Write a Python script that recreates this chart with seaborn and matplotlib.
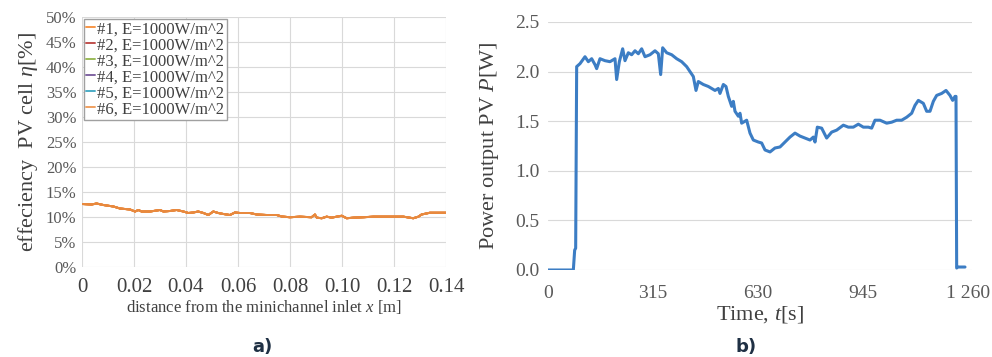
import matplotlib
matplotlib.use("Agg")
import matplotlib.pyplot as plt
import seaborn as sns
import pandas as pd
import numpy as np

sns.set_theme(style="white")
plt.rcParams['font.family'] = ['Liberation Serif', 'DejaVu Serif']
plt.rcParams['mathtext.fontset'] = 'custom'
plt.rcParams['mathtext.rm'] = 'Liberation Serif'
plt.rcParams['mathtext.it'] = 'Liberation Serif:italic'

# ---- data: panel a) efficiency vs distance ----
x_dist = [0.0, 0.0037, 0.0056, 0.0082, 0.0121, 0.0146, 0.0185, 0.0204, 0.0217, 0.0229,
          0.0262, 0.0300, 0.0313, 0.0338, 0.0364, 0.0390, 0.0409, 0.0428, 0.0447, 0.0467,
          0.0486, 0.0505, 0.0524, 0.0544, 0.0569, 0.0588, 0.0608, 0.0646, 0.0672, 0.0710,
          0.0749, 0.0768, 0.0800, 0.0838, 0.0883, 0.0896, 0.0903, 0.0922, 0.0941, 0.0960,
          0.0980, 0.0999, 0.1018, 0.1044, 0.1082, 0.1121, 0.1159, 0.1197, 0.1236, 0.1274,
          0.1294, 0.1306, 0.1338, 0.1364, 0.1400]
eff = [12.6, 12.5, 12.7, 12.4, 12.1, 11.7, 11.5, 11.1, 11.4, 11.1,
       11.1, 11.4, 11.1, 11.2, 11.4, 11.1, 10.8, 10.9, 11.1, 10.8,
       10.4, 11.1, 10.8, 10.6, 10.4, 10.9, 10.8, 10.8, 10.5, 10.4,
       10.4, 10.1, 9.95, 10.07, 9.95, 10.5, 9.87, 9.75, 10.07, 9.87,
       10.07, 10.25, 9.75, 9.87, 9.95, 10.07, 10.07, 10.07, 10.07, 9.75,
       10.07, 10.5, 10.85, 10.85, 10.85]
series_labels = ["#1, E=1000W/m^2", "#2, E=1000W/m^2", "#3, E=1000W/m^2",
                 "#4, E=1000W/m^2", "#5, E=1000W/m^2", "#6, E=1000W/m^2"]
series_colors = ["#F79646", "#C0504D", "#9BBB59", "#8064A2", "#4BACC6", "#F0A060"]
left_xticks = [0, 0.02, 0.04, 0.06, 0.08, 0.10, 0.12, 0.14]
left_xticklabels = ["0", "0.02", "0.04", "0.06", "0.08", "0.10", "0.12", "0.14"]

# ---- data: panel b) power vs time ----
t_sec = [0, 76, 80, 83, 86, 96, 111, 121, 131, 141, 146, 156, 171, 186, 201, 206, 214,
         224, 231, 241, 251, 261, 271, 281, 291, 306, 321, 331, 338, 344, 356, 371, 386,
         401, 416, 426, 436, 444, 451, 466, 481, 491, 501, 511, 516, 526, 534, 541, 551,
         556, 561, 571, 576, 581, 596, 606, 616, 631, 641, 651, 666, 681, 696, 711, 726,
         741, 756, 771, 786, 796, 801, 808, 821, 836, 851, 866, 886, 901, 916, 931, 946,
         961, 971, 981, 996, 1016, 1031, 1046, 1061, 1076, 1091, 1101, 1111, 1126, 1136,
         1146, 1156, 1166, 1181, 1194, 1206, 1214, 1221, 1224, 1226, 1230, 1251]
power = [0.0, 0.0, 0.2, 0.22, 2.05, 2.08, 2.15, 2.10, 2.13, 2.07, 2.03, 2.13, 2.11, 2.10,
         2.13, 1.92, 2.10, 2.23, 2.11, 2.19, 2.17, 2.21, 2.18, 2.23, 2.15, 2.17, 2.21, 2.18,
         1.97, 2.24, 2.19, 2.17, 2.13, 2.10, 2.05, 2.00, 1.95, 1.81, 1.90, 1.87, 1.85, 1.83,
         1.81, 1.83, 1.78, 1.87, 1.85, 1.75, 1.65, 1.70, 1.60, 1.55, 1.58, 1.48, 1.51, 1.38,
         1.31, 1.29, 1.28, 1.21, 1.19, 1.23, 1.24, 1.29, 1.34, 1.38, 1.35, 1.33, 1.31, 1.34,
         1.29, 1.44, 1.43, 1.33, 1.39, 1.41, 1.46, 1.44, 1.44, 1.47, 1.44, 1.44, 1.43, 1.51,
         1.51, 1.48, 1.49, 1.51, 1.51, 1.54, 1.58, 1.66, 1.71, 1.68, 1.60, 1.60, 1.70, 1.76,
         1.78, 1.81, 1.76, 1.71, 1.75, 1.75, 0.02, 0.03, 0.03]
right_xticks = [0, 315, 630, 945, 1260]
right_xticklabels = ["0", "315", "630", "945", "1 260"]
right_yticks = [0.0, 0.5, 1.0, 1.5, 2.0, 2.5]

grid_c = "#D9D9D9"
tick_c = "#595959"

fig = plt.figure(figsize=(9.92, 3.57), dpi=100)

# ---------------- panel a ----------------
ax1 = fig.add_axes([82/992, 1 - 267/357, (446 - 82)/992, (267 - 17)/357])
frames = []
for lab in series_labels:
    frames.append(pd.DataFrame({"x": x_dist, "eff": eff, "series": lab}))
df_a = pd.concat(frames, ignore_index=True)
sns.lineplot(data=df_a, x="x", y="eff", hue="series", hue_order=series_labels,
             palette=series_colors, ax=ax1, linewidth=1.4, legend=True)
# the top-drawn line appears orange
for ln in ax1.get_lines():
    ln.set_color("#E8893E")
ax1.set_xlim(0, 0.14)
ax1.set_ylim(0, 50)
ax1.set_xticks(left_xticks)
ax1.set_xticklabels(left_xticklabels, fontsize=15, color="#404040")
ax1.set_yticks(range(0, 51, 5))
ax1.set_yticklabels([f"{v}%" for v in range(0, 51, 5)], fontsize=12, color=tick_c)
ax1.grid(True, color=grid_c, linewidth=0.8)
for s in ax1.spines.values():
    s.set_visible(False)
ax1.tick_params(axis="both", length=0, pad=4)
ax1.tick_params(axis="x", pad=8)
ax1.set_xlabel(r"distance from the minichannel inlet $\mathit{x}$ [m]", fontsize=12,
               color="#404040", labelpad=1)
ax1.set_ylabel(r"effeciency  PV cell $\mathit{\eta}$[%]", fontsize=16, color="#404040",
               labelpad=4)
handles, labels = ax1.get_legend_handles_labels()
for h, c in zip(handles, series_colors):
    h.set_color(c)
leg = ax1.legend(handles, labels, loc="upper left", fontsize=12, frameon=True,
                 fancybox=False, edgecolor="#A0A0A0", framealpha=1,
                 handlelength=0.5, handletextpad=0.15, labelspacing=0.0,
                 borderpad=0.15, borderaxespad=0.1)
leg.get_frame().set_linewidth(1.0)
for txt in leg.get_texts():
    txt.set_color("#404040")

# ---------------- panel b ----------------
ax2 = fig.add_axes([548/992, 1 - 270/357, (972 - 548)/992, (270 - 22)/357])
df_b = pd.DataFrame({"t": t_sec, "P": power})
sns.lineplot(data=df_b, x="t", y="P", ax=ax2, color="#3C7DC4", linewidth=2.2)
ax2.set_xlim(0, 1272)
ax2.set_ylim(0, 2.5)
ax2.set_xticks(right_xticks)
ax2.set_xticklabels(right_xticklabels, fontsize=14, color=tick_c)
ax2.set_yticks(right_yticks)
ax2.set_yticklabels([f"{v:.1f}" for v in right_yticks], fontsize=14, color=tick_c)
ax2.grid(True, axis="y", color=grid_c, linewidth=0.8)
ax2.grid(False, axis="x")
for s in ax2.spines.values():
    s.set_visible(False)
ax2.tick_params(axis="y", length=0, pad=6)
ax2.tick_params(axis="x", length=0, pad=11)
ax2.set_xlabel(r"Time, $\mathit{t}$[s]", fontsize=16, color="#404040", labelpad=1)
ax2.set_ylabel(r"Power output PV $\mathit{P}$[W]", fontsize=16, color="#404040", labelpad=10)

fig.text(262/992, 1 - 347/357, "a)", fontsize=13, fontweight="bold", color="#1F3044",
         family=["DejaVu Sans"], ha="center", va="center")
fig.text(746/992, 1 - 347/357, "b)", fontsize=13, fontweight="bold", color="#1F3044",
         family=["DejaVu Sans"], ha="center", va="center")

fig.savefig("out.png", dpi=100)
